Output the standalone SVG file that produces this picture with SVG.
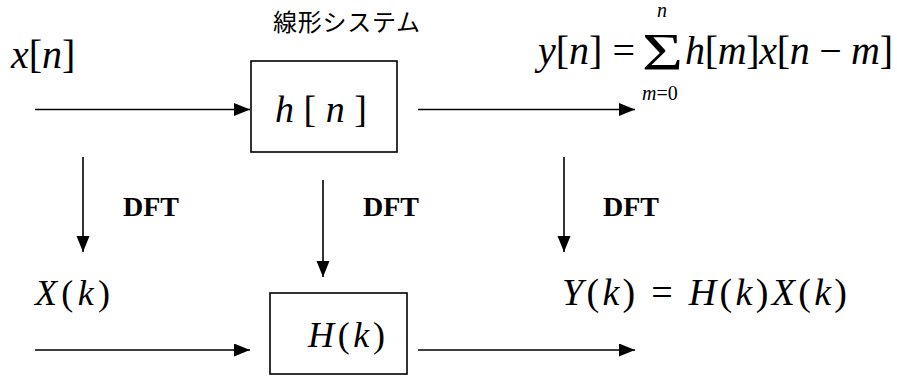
<svg xmlns="http://www.w3.org/2000/svg" width="897" height="376" viewBox="0 0 897 376">
<style>
text{fill:#000}
.m{font-style:italic}
.n{font-style:normal}
.b{font-weight:bold;font-size:28px}
.c{stroke:#000;stroke-width:1.6;fill:none;marker-end:url(#ah)}
.box{fill:#fff;stroke:#000;stroke-width:1.6}
</style>
<defs>
<marker id="ah" markerUnits="userSpaceOnUse" markerWidth="17" markerHeight="14" refX="16" refY="6.5" orient="auto">
<path d="M0,0 L16,6.5 L0,13 Z" fill="#000"/>
</marker>
</defs>
<rect width="897" height="376" fill="#fff"/>
<g id="connectors">
<line class="c" x1="35" y1="109.5" x2="250" y2="109.5"/>
<line class="c" x1="418" y1="109.5" x2="635" y2="109.5"/>
<line class="c" x1="83" y1="157" x2="83" y2="252"/>
<line class="c" x1="323" y1="180" x2="323" y2="277"/>
<line class="c" x1="564" y1="157" x2="564" y2="252"/>
<line class="c" x1="35" y1="350" x2="250" y2="350"/>
<line class="c" x1="418" y1="350" x2="635" y2="350"/>
</g>
<g id="label-xn"><text class="m" font-family="Liberation Serif, serif" x="11" y="68" font-size="40">x<tspan class="n">[</tspan>n<tspan class="n">]</tspan></text></g>
<g id="node-hn">
<rect class="box" x="251" y="61" width="146" height="91"/>
<text class="m" font-family="Liberation Serif, serif" x="275" y="122" font-size="38">h<tspan class="n"> [ </tspan>n<tspan class="n"> ]</tspan></text>
</g>
<g id="label-yn">
<text class="m" font-family="Liberation Serif, serif" x="538" y="64" font-size="40">y<tspan class="n">[</tspan>n<tspan class="n">] =</tspan></text>
<text font-family="Liberation Serif, serif" x="642" y="70" font-size="52" textLength="41" lengthAdjust="spacingAndGlyphs">Σ</text>
<text class="m" font-family="Liberation Serif, serif" x="657" y="17" font-size="20">n</text>
<text class="m" font-family="Liberation Serif, serif" x="642" y="100" font-size="20">m<tspan class="n">=0</tspan></text>
<text class="m" font-family="Liberation Serif, serif" x="685" y="64" font-size="40" textLength="208">h<tspan class="n">[</tspan>m<tspan class="n">]</tspan>x<tspan class="n">[</tspan>n<tspan class="n"> − </tspan>m<tspan class="n">]</tspan></text>
</g>
<g id="label-dft1"><text class="b" font-family="Liberation Serif, serif" x="123" y="216">DFT</text></g>
<g id="label-dft2"><text class="b" font-family="Liberation Serif, serif" x="363" y="216">DFT</text></g>
<g id="label-dft3"><text class="b" font-family="Liberation Serif, serif" x="603" y="216">DFT</text></g>
<g id="label-Xk"><text class="m" font-family="Liberation Serif, serif" x="35" y="305" font-size="36" textLength="75">X<tspan class="n">(</tspan>k<tspan class="n">)</tspan></text></g>
<g id="node-Hk">
<rect class="box" x="270" y="293" width="137" height="81"/>
<text class="m" font-family="Liberation Serif, serif" x="308" y="347" font-size="36" textLength="77">H<tspan class="n">(</tspan>k<tspan class="n">)</tspan></text>
</g>
<g id="label-Yk"><text class="m" font-family="Liberation Serif, serif" x="562" y="305" font-size="38" textLength="285">Y<tspan class="n">(</tspan>k<tspan class="n">) = </tspan>H<tspan class="n">(</tspan>k<tspan class="n">)</tspan>X<tspan class="n">(</tspan>k<tspan class="n">)</tspan></text></g>
<g id="label-system"><text font-family="Noto Sans CJK JP, sans-serif" font-size="24" x="273" y="31" textLength="147">線形システム</text></g>
</svg>
